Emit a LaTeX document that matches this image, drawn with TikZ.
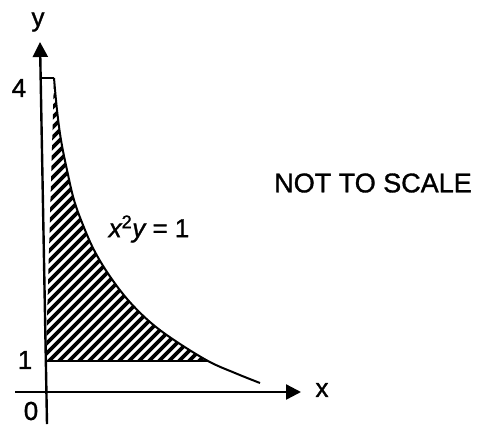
\documentclass[tikz,border=0pt]{standalone}
\usepackage{fontspec}
\setmainfont{Liberation Sans}[
  BoldFont=Liberation Sans, BoldFeatures={FakeBold=1.2},
  BoldItalicFont=Liberation Sans Italic, BoldItalicFeatures={FakeBold=1.2}]
\usetikzlibrary{arrows.meta}
\begin{document}
\begin{tikzpicture}[x=1pt,y=-1pt,
  axis/.style={line width=2.4pt,-{Triangle[length=15pt,width=15pt]}},
  curve/.style={line width=2pt},
  hatch/.style={line width=3.6pt},
  lbl/.style={inner sep=0pt,font=\fontsize{26}{30}\selectfont\bfseries}]
\useasboundingbox (0,0) rectangle (487,424);
% region
\coordinate (tl) at (40.6,78);
\coordinate (tr) at (54,78);
\coordinate (bl) at (45.8,361);
\coordinate (br) at (208,361);
\begin{scope}
  \clip (tl) -- (tr) plot[smooth,tension=0.6] coordinates {(54,78) (57,110) (61,140) (67,170) (74,200) (83,225) (94,250) (109,275) (128,300) (150,322) (174,340) (208,361)} -- (bl) -- cycle;
  \foreach \c in {-420,-410,...,260} \draw[hatch] (\c,430) -- (\c+430,0);
\end{scope}
\draw[line width=1.2pt] (tl) -- (tr);
\draw[curve] (bl) -- (br);
\draw[curve] plot[smooth,tension=0.6] coordinates {(54,78) (57,110) (61,140) (67,170) (74,200) (83,225) (94,250) (109,275) (128,300) (150,322) (174,340) (208,361) (235,373) (260,383)};
% axes
\coordinate (ybot) at (47,424);
\coordinate (ytip) at (40,42);
\coordinate (xleft) at (15,392);
\coordinate (xtip) at (301,392);
\draw[axis] (ybot) -- (ytip);
\draw[axis] (xleft) -- (xtip);
% labels
\node[lbl] (ylab) at (38,22) {y};
\node[lbl] (xlab) at (322,390) {x};
\node[lbl] (four) at (19,88) {4};
\node[lbl] (one) at (25,360) {1};
\node[lbl] (zero) at (31,411) {0};
\node[lbl] (eq) at (149,229) {\itshape x\textsuperscript{\upshape 2}y\upshape\ = 1};
\node[lbl,font=\fontsize{27}{30}\selectfont\bfseries] (nts) at (373,183) {NOT TO SCALE};
\end{tikzpicture}
\end{document}
